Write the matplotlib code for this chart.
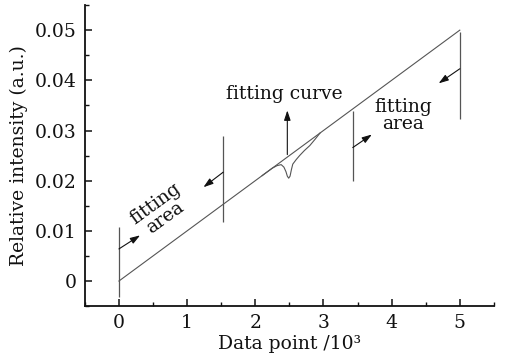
import matplotlib
matplotlib.use('Agg')
import matplotlib.pyplot as plt
from matplotlib.ticker import MultipleLocator

plt.rcParams['font.family'] = 'DejaVu Serif'
plt.rcParams['font.size'] = 13

# measured spectrum: straight baseline with an absorption dip near 2.5e3
data_x = [0.0, 2.25, 2.32, 2.38, 2.42, 2.45, 2.47, 2.49, 2.51, 2.53, 2.55,
          2.60, 2.65, 2.72, 2.80, 2.88, 2.95, 5.0]
data_y = [0.0, 0.0225, 0.0230, 0.0232, 0.0227, 0.0218, 0.0209, 0.0205,
          0.0209, 0.0222, 0.0233, 0.0242, 0.0250, 0.0260, 0.0270, 0.0283,
          0.0295, 0.050]

# fitted baseline over the dip
fit_x = [2.10, 2.95]
fit_y = [0.0210, 0.0295]

# vertical markers bounding the two fitting areas
marker_x = [0.0, 1.53, 3.43, 5.0]
marker_lo = [-0.0032, 0.0117, 0.0199, 0.0322]
marker_hi = [0.0107, 0.0289, 0.0338, 0.0497]

# arrows (tail -> head)
arrow_tail = [(0.0, 0.0064), (1.53, 0.0217), (3.43, 0.0266), (5.0, 0.0423), (2.47, 0.0252)]
arrow_head = [(0.31, 0.0091), (1.24, 0.0187), (3.71, 0.0292), (4.69, 0.0394), (2.47, 0.0340)]

line_c = '#555555'
ink = '#111111'

fig = plt.figure(figsize=(5.05, 3.61), dpi=100)
ax = fig.add_axes([0.168, 0.152, 0.810, 0.834])

ax.plot(data_x, data_y, color=line_c, lw=0.8)
ax.plot(fit_x, fit_y, color=line_c, lw=0.8)
ax.vlines(marker_x, marker_lo, marker_hi, color=line_c, lw=0.9)

for (x0, y0), (x1, y1) in zip(arrow_tail, arrow_head):
    ax.annotate('', xy=(x1, y1), xytext=(x0, y0),
                arrowprops=dict(arrowstyle='-|>,head_length=0.45,head_width=0.15',
                                color=ink, lw=0.8, shrinkA=0, shrinkB=0))

ax.text(2.42, 0.0372, 'fitting curve', ha='center', va='center', fontsize=13.5, color=ink)
ax.text(4.17, 0.0330, 'fitting\narea', ha='center', va='center', fontsize=13.5,
        color=ink, linespacing=0.9)
ax.text(0.60, 0.0140, 'fitting\narea', ha='center', va='center', fontsize=13.5,
        color=ink, linespacing=0.9, rotation=36, rotation_mode='anchor')

ax.set_xlim(-0.5, 5.5)
ax.set_ylim(-0.005, 0.055)
ax.set_xticks([0, 1, 2, 3, 4, 5])
ax.set_yticks([0, 0.01, 0.02, 0.03, 0.04, 0.05])
ax.set_yticklabels(['0', '0.01', '0.02', '0.03', '0.04', '0.05'])
ax.xaxis.set_minor_locator(MultipleLocator(0.5))
ax.yaxis.set_minor_locator(MultipleLocator(0.005))
ax.tick_params(which='major', direction='in', length=5, width=1.1, color=ink,
               labelsize=13.5, labelcolor=ink, pad=6)
ax.tick_params(which='minor', direction='in', length=3, width=1.0, color=ink)

for side in ['top', 'right']:
    ax.spines[side].set_visible(False)
for side in ['left', 'bottom']:
    ax.spines[side].set_linewidth(1.3)
    ax.spines[side].set_color(ink)

ax.set_xlabel('Data point /10³', fontsize=13.5, labelpad=2, color=ink)
ax.set_ylabel('Relative intensity (a.u.)', fontsize=13.5, labelpad=5, color=ink)

fig.savefig('out.png', dpi=100)
